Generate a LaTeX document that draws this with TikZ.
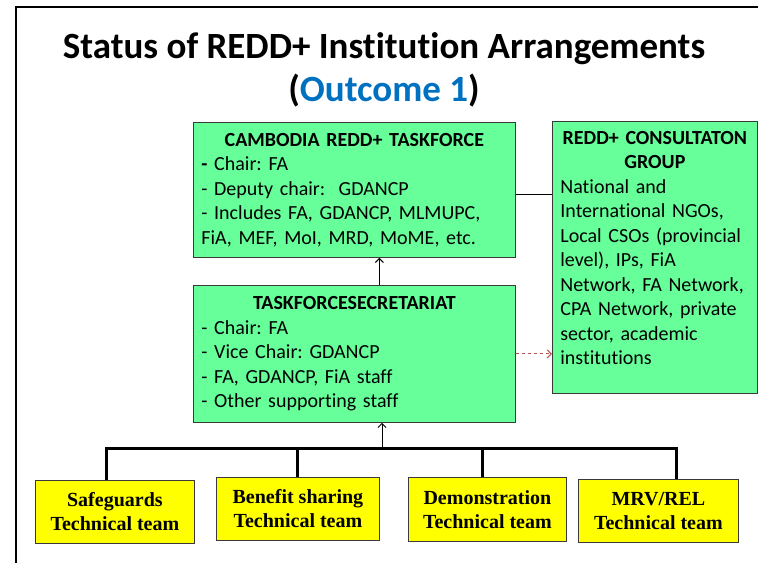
\documentclass[tikz,border=0pt]{standalone}
\usepackage{fontspec}
\setmainfont{Carlito}[Ligatures=NoCommon]
\newfontfamily\tnr{Liberation Serif}
\usetikzlibrary{calc,arrows.meta}
\frenchspacing
\definecolor{boxg}{HTML}{66FF99}
\definecolor{boxy}{HTML}{FFFF00}
\definecolor{edge}{HTML}{3A3A3A}
\definecolor{oblue}{HTML}{0070C0}
\definecolor{dred}{HTML}{C0504D}
\tikzset{
  frame/.style={draw=black, line width=2pt},
  gbox/.style={draw=edge, fill=boxg, line width=0.8pt, anchor=north west, inner xsep=8pt, align=left, font=\fontsize{20}{24.5}\selectfont},
  ybox/.style={draw=edge, fill=boxy, line width=0.8pt, anchor=north west, align=center, font=\tnr\bfseries\fontsize{20}{24}\selectfont},
  arr/.style={draw=black, line width=1pt, -{Straight Barb[length=4pt,width=8pt]}},
  link/.style={draw=black, line width=1.6pt},
  redarr/.style={draw=dred, dashed, line width=1pt, -{Straight Barb[length=4pt,width=8pt]}},
  bus/.style={draw=black, line width=3pt},
  ttl/.style={font=\bfseries\fontsize{37}{43}\selectfont, align=center}
}
\newcommand{\hd}[1]{\makebox[\linewidth]{\bfseries #1}}

\begin{document}
\begin{tikzpicture}[x=1pt,y=-1pt]
  \useasboundingbox (0,0) rectangle (758,563);
  \draw[frame] (16,563) -- (16,7) -- (758,7);
  \node[ttl] (title) at (384,70) {Status of REDD+ Institution Arrangements\\(\textcolor{oblue}{Outcome 1})};

  % green boxes
  \node[gbox, text width=306pt, minimum height=135pt] (tf) at (193,122)
    {\hd{CAMBODIA REDD+ TASKFORCE}\\ \textbf{-} Chair: FA\\ - Deputy chair:\ \ GDANCP\\ - Includes FA, GDANCP, MLMUPC,\\ FiA, MEF, MoI, MRD, MoME, etc.};
  \node[gbox, text width=306pt, minimum height=137pt] (ts) at (193,285)
    {\hd{TASKFORCESECRETARIAT}\\ - Chair: FA\\ - Vice Chair: GDANCP\\ - FA, GDANCP, FiA staff\\ - Other supporting staff};
  \node[gbox, text width=189pt, minimum height=272pt] (cg) at (552,121)
    {\hd{REDD+ CONSULTATON}\\ \hd{GROUP}\\ National and\\ International NGOs,\\ Local CSOs (provincial\\ level), IPs, FiA\\ Network, FA Network,\\ CPA Network, private\\ sector, academic\\ institutions\rule[-19pt]{0pt}{0pt}};

  % technical teams
  \node[ybox, minimum width=159pt, minimum height=63pt] (sg) at (35,480) {Safeguards\\Technical team};
  \node[ybox, minimum width=163pt, minimum height=63pt] (bs) at (216,477) {Benefit sharing\\Technical team};
  \node[ybox, minimum width=158pt, minimum height=64pt] (dm) at (408,477) {Demonstration\\Technical team};
  \node[ybox, minimum width=160pt, minimum height=63pt] (mrv) at (578,479) {MRV/REL\\Technical team};

  % connectors
  \draw[arr] ([xshift=25pt]ts.north) -- ([xshift=25pt]tf.south);
  \draw[link] ([yshift=-4.5pt]tf.east) -- ([yshift=-4.5pt]tf.east -| cg.west);
  \draw[redarr] (ts.east) -- (ts.east -| cg.west);

  \coordinate (bus) at (382,448);
  \draw[bus] ([xshift=-8.5pt]sg.north) |- ([xshift=18pt]mrv.north |- bus) -- ([xshift=18pt]mrv.north);
  \draw[bus] (bs.north) -- (bs.north |- bus);
  \draw[bus] ([xshift=-5pt]dm.north) -- ([xshift=-5pt]dm.north |- bus);
  \draw[arr] (bus) -- (bus |- ts.south);
\end{tikzpicture}
\end{document}
